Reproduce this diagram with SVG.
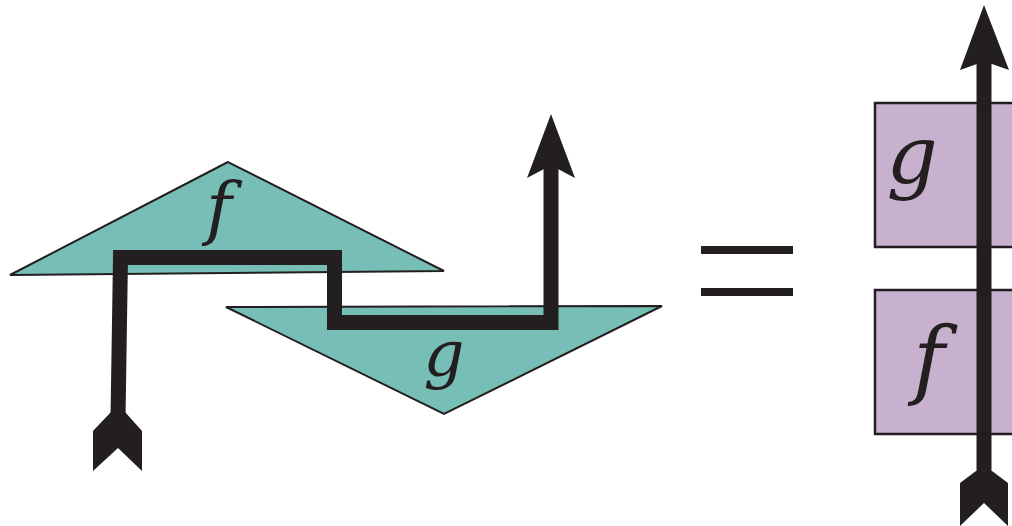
<svg xmlns="http://www.w3.org/2000/svg" width="1012" height="526" viewBox="0 0 1012 526">
<style>
.tri{fill:#77bfb6;stroke:#231f20;stroke-width:2;stroke-linejoin:miter}
.box{fill:#c8b1cf;stroke:#231f20;stroke-width:2.5}
.wire{fill:none;stroke:#231f20;stroke-width:15;stroke-linejoin:miter;stroke-linecap:butt}
.head{fill:#231f20;stroke:none}
.lbl{font-family:"DejaVu Serif",serif;font-style:italic;fill:#231f20}
</style>
<rect width="1012" height="526" fill="#ffffff"/>
<g id="node-f-triangle">
<polygon class="tri" points="228,162 10,275 444,271"/>
<text class="lbl" x="219" y="232" font-size="70" text-anchor="middle">f</text>
</g>
<g id="node-g-triangle">
<polygon class="tri" points="226,307 662,306 444,414"/>
<text class="lbl" x="444" y="376" font-size="64" text-anchor="middle">g</text>
</g>
<g id="equals">
<rect x="701" y="246" width="92" height="8" fill="#231f20"/>
<rect x="701" y="288" width="92" height="8" fill="#231f20"/>
</g>
<g id="node-g-box">
<rect class="box" x="875" y="103" width="150" height="144"/>
<text class="lbl" x="912" y="183" font-size="80" text-anchor="middle">g</text>
</g>
<g id="node-f-box">
<rect class="box" x="875" y="290" width="150" height="144"/>
<text class="lbl" x="929" y="388" font-size="86" text-anchor="middle">f</text>
</g>
<g id="connectors">
<path class="wire" d="M118,418 L120.5,257.5 L334.5,257.5 L334.5,322.5 L551,322.5 L551,168"/>
<polygon class="head" points="551,114 575,178 558,169 544,169 527,178"/>
<polygon class="head" points="111,412 125,412 142,431 142,471 118,448 93,471 93,431"/>
<line x1="984" y1="60" x2="984" y2="475" stroke="#231f20" stroke-width="15"/>
<polygon class="head" points="984,5 1009,70 992,64 977,64 960,70"/>
<polygon class="head" points="976,471 992,471 1008,483 1008,526 984,503 960,526 960,483"/>
</g>
</svg>
